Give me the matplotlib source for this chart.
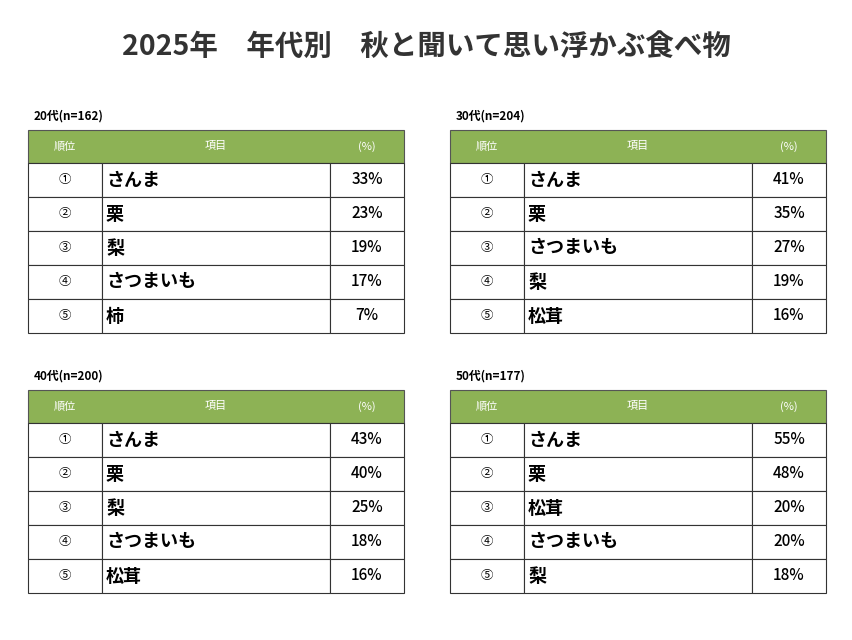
import matplotlib
matplotlib.use("Agg")
import matplotlib.pyplot as plt
from matplotlib.patches import Rectangle

plt.rcParams["font.family"] = "Noto Sans CJK JP"

TITLE = "2025年　年代別　秋と聞いて思い浮かぶ食べ物"
GROUPS = ["20代(n=162)", "30代(n=204)", "40代(n=200)", "50代(n=177)"]
RANKS = ["①", "②", "③", "④", "⑤"]
ITEMS_20 = ["さんま", "栗", "梨", "さつまいも", "柿"]
PCT_20 = [33, 23, 19, 17, 7]
ITEMS_30 = ["さんま", "栗", "さつまいも", "梨", "松茸"]
PCT_30 = [41, 35, 27, 19, 16]
ITEMS_40 = ["さんま", "栗", "梨", "さつまいも", "松茸"]
PCT_40 = [43, 40, 25, 18, 16]
ITEMS_50 = ["さんま", "栗", "松茸", "さつまいも", "梨"]
PCT_50 = [55, 48, 20, 20, 18]
HEADERS = ["順位", "項目", "(%)"]

GREEN = "#8db255"

fig = plt.figure(figsize=(8.53, 6.4), dpi=100)
ax = fig.add_axes([0, 0, 1, 1])
ax.set_xlim(0, 853); ax.set_ylim(640, 0); ax.axis("off")

ax.text(426, 47, TITLE, ha="center", va="center", fontsize=20.5, fontweight="bold", color="#333333")

# table origins (x, header top)
origins = [(28, 130), (450, 130), (28, 390), (450, 390)]
data = [(ITEMS_20, PCT_20), (ITEMS_30, PCT_30), (ITEMS_40, PCT_40), (ITEMS_50, PCT_50)]
col_w = [74, 228, 74]
head_h, row_h = 33, 34

for (x0, y0), grp, (items, pcts) in zip(origins, GROUPS, data):
    ax.text(x0 + 6, y0 - 14, grp, ha="left", va="center", fontsize=8.5, fontweight="bold")
    xs = [x0, x0 + col_w[0], x0 + col_w[0] + col_w[1], x0 + sum(col_w)]
    ax.add_patch(Rectangle((x0, y0), sum(col_w), head_h, facecolor=GREEN, edgecolor="#555555", lw=0.8))
    for j, h in enumerate(HEADERS):
        ax.text((xs[j] + xs[j + 1]) / 2, y0 + head_h / 2, h, ha="center", va="center",
                fontsize=8, color="white")
    for i, (r, it, p) in enumerate(zip(RANKS, items, pcts)):
        ty = y0 + head_h + i * row_h
        for j in range(3):
            ax.add_patch(Rectangle((xs[j], ty), col_w[j], row_h, facecolor="white",
                                   edgecolor="#333333", lw=0.8))
        cy = ty + row_h / 2
        ax.text((xs[0] + xs[1]) / 2, cy, r, ha="center", va="center", fontsize=9)
        ax.text(xs[1] + 4, cy, it, ha="left", va="center", fontsize=13, fontweight="bold")
        ax.text((xs[2] + xs[3]) / 2, cy, f"{p}%", ha="center", va="center", fontsize=11,
                fontweight="medium")

fig.savefig("out.png", dpi=100)
